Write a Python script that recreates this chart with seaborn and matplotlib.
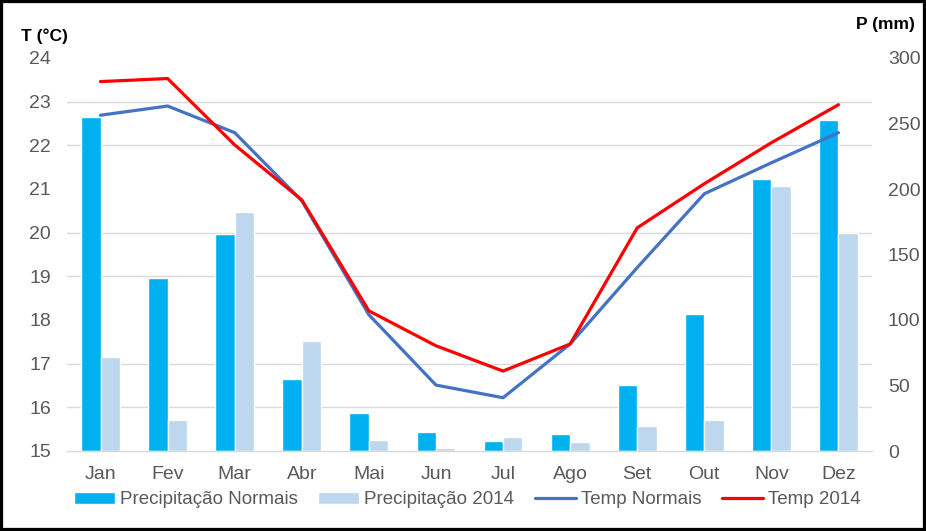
import numpy as np
import pandas as pd
import matplotlib
matplotlib.use("Agg")
import matplotlib.pyplot as plt
import seaborn as sns
from matplotlib.patches import Rectangle, Patch
from matplotlib.lines import Line2D

months = ["Jan", "Fev", "Mar", "Abr", "Mai", "Jun", "Jul", "Ago", "Set", "Out", "Nov", "Dez"]
prec_normais = [255, 132, 166, 55, 29, 14.5, 7.6, 13, 50.5, 104.5, 207.5, 253]
prec_2014 = [72, 23.7, 182.5, 84, 8.4, 2.3, 10.7, 6.9, 19, 23.7, 202, 166.5]
temp_normais = [22.69, 22.9, 22.29, 20.73, 18.12, 16.51, 16.22, 17.45, 19.2, 20.89, 21.6, 22.29]
temp_2014 = [23.46, 23.53, 22.01, 20.75, 18.21, 17.41, 16.83, 17.45, 20.11, 21.12, 22.06, 22.93]
temp_ticks = [15, 16, 17, 18, 19, 20, 21, 22, 23, 24]
prec_ticks = [0, 50, 100, 150, 200, 250, 300]

lbl_pn = "Precipitação Normais"
lbl_p14 = "Precipitação 2014"
lbl_tn = "Temp Normais"
lbl_t14 = "Temp 2014"

sns.set_theme(style="white")
plt.rcParams['font.family'] = ['Liberation Sans', 'DejaVu Sans']

FS = 14
bars = pd.DataFrame({
    "mes": months * 2,
    "prec": prec_normais + prec_2014,
    "serie": [lbl_pn] * len(months) + [lbl_p14] * len(months),
})

fig = plt.figure(figsize=(9.26, 5.31), dpi=100)
ax = fig.add_axes([67/926, 1-451/531, (872-67)/926, (451-58)/531])

sns.barplot(data=bars, x="mes", y="prec", hue="serie", order=months,
            hue_order=[lbl_pn, lbl_p14], palette=["#00B0F0", "#BDD7EE"],
            width=0.58, saturation=1, ax=ax, legend=False, zorder=2)
ax.set_xlim(-0.5, len(months) - 0.5)
ax.set_xlabel("")
ax.set_ylabel("")

axt = ax.twinx()
x = np.arange(len(months))
sns.lineplot(x=x, y=temp_normais, ax=axt, color="#4472C4", lw=2.3, label=lbl_tn, legend=False)
sns.lineplot(x=x, y=temp_2014, ax=axt, color="#FF0000", lw=2.3, label=lbl_t14, legend=False)

# bars axis: ticks on the right
ax.set_ylim(prec_ticks[0], prec_ticks[-1])
ax.yaxis.tick_right()
ax.yaxis.set_label_position("right")
ax.set_yticks(prec_ticks)
ax.set_yticks(np.linspace(prec_ticks[0], prec_ticks[-1], len(temp_ticks)), minor=True)
ax.grid(False)
ax.grid(True, which="minor", axis="y", color="#D9D9D9", lw=1.0, zorder=0)
ax.set_axisbelow(True)
ax.tick_params(axis="y", which="both", length=0, pad=11.5, labelsize=FS, labelcolor="#595959",
               left=False, labelleft=False, right=True, labelright=True)
ax.tick_params(axis="x", length=0, pad=10.5, labelsize=FS, labelcolor="#595959")
for s in ["top", "left", "right"]:
    ax.spines[s].set_visible(False)
ax.spines["bottom"].set_color("#D9D9D9")
ax.spines["bottom"].set_linewidth(1.0)

# temperature axis: ticks on the left
axt.set_ylim(temp_ticks[0], temp_ticks[-1])
axt.set_yticks(temp_ticks)
axt.tick_params(axis="y", length=0, pad=11.5, labelsize=FS, labelcolor="#595959",
                left=True, labelleft=True, right=False, labelright=False)
axt.grid(False)
axt.set_xlim(-0.5, len(months) - 0.5)
for s in ["top", "left", "right", "bottom"]:
    axt.spines[s].set_visible(False)

fig.text(21/926, 1-36/531, "T (°C)", fontsize=12.5, fontweight="bold", va="center", ha="left", color="black")
fig.text(915/926, 1-25/531, "P (mm)", fontsize=12.5, fontweight="bold", va="center", ha="right", color="black")

handles = [Patch(facecolor="#00B0F0", label=lbl_pn),
           Patch(facecolor="#BDD7EE", label=lbl_p14),
           Line2D([], [], color="#4472C4", lw=2.3, label=lbl_tn),
           Line2D([], [], color="#FF0000", lw=2.3, label=lbl_t14)]
fig.legend(handles=handles, loc="center", bbox_to_anchor=(467/926, 1-500/531),
           ncol=4, frameon=False, fontsize=13.5, handlelength=2.2, handleheight=0.65,
           handletextpad=0.25, columnspacing=1.1, labelcolor="#595959")

fig.patches.append(Rectangle((0, 0), 1, 1, transform=fig.transFigure, fill=False,
                             edgecolor="black", lw=4.5, zorder=10))
fig.savefig("out.png", dpi=100, facecolor="white")
